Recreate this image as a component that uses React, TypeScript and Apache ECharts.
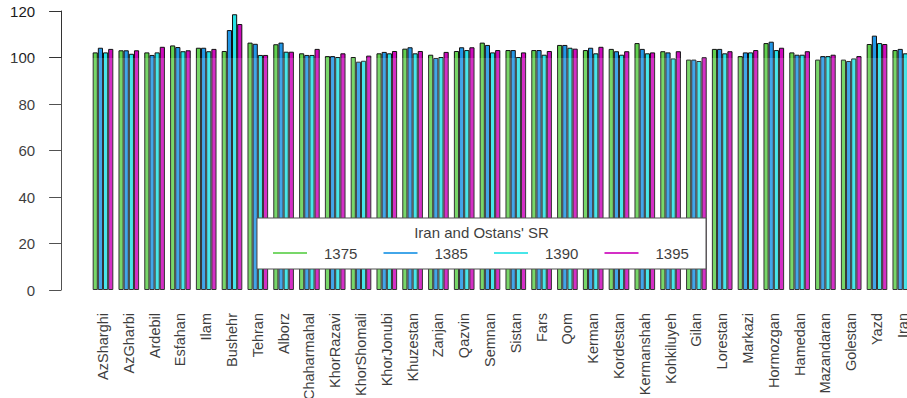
import React, { useEffect, useRef } from "react";
import * as echarts from "echarts";

// Provinces (ostans) plus the national total, in plotting order
const provinces = [
  "AzSharghi", "AzGharbi", "Ardebil", "Esfahan", "Ilam", "Bushehr", "Tehran", "Alborz",
  "Chaharmahal", "KhorRazavi", "KhorShomali", "KhorJonubi", "Khuzestan", "Zanjan", "Qazvin", "Semnan",
  "Sistan", "Fars", "Qom", "Kerman", "Kordestan", "Kermanshah", "Kohkiluyeh", "Gilan",
  "Lorestan", "Markazi", "Hormozgan", "Hamedan", "Mazandaran", "Golestan", "Yazd", "Iran",
];

// Census years
const years = ["1375", "1385", "1390", "1395"];

// Sex ratio (males per 100 females) for each census year
const sr1375 = [
  102.2, 103.1, 102.2, 105.2, 104.2, 102.8, 106.4, 105.7,
  101.8, 100.6, 100.2, 101.8, 103.8, 101.2, 102.8, 106.4,
  103.2, 103.2, 105.4, 103.2, 103.7, 106.2, 102.7, 99.1,
  103.7, 100.6, 106.2, 102.2, 99.1, 99.1, 105.8, 103.2,
];
const sr1385 = [
  104.2, 103.1, 101.1, 104.5, 104.2, 111.8, 105.9, 106.4,
  101.1, 100.6, 98.2, 102.4, 104.4, 99.8, 104.4, 105.4,
  103.2, 103.2, 105.4, 104.2, 102.7, 103.7, 102.2, 99.1,
  103.7, 102.2, 106.8, 101.2, 100.6, 98.5, 109.4, 103.7,
];
const sr1390 = [
  102.2, 101.6, 102.2, 102.7, 102.7, 118.6, 101.1, 102.5,
  101.1, 100.2, 98.6, 101.8, 101.8, 100.2, 103.2, 102.2,
  100.2, 101.2, 104.2, 101.8, 101.2, 101.8, 99.6, 98.5,
  101.8, 102.2, 103.2, 101.2, 100.6, 99.6, 106.2, 101.8,
];
const sr1395 = [
  103.7, 103.1, 104.6, 103.1, 103.7, 114.4, 101.1, 102.5,
  103.7, 101.8, 100.8, 102.8, 102.8, 102.4, 104.4, 103.2,
  102.2, 102.8, 103.8, 104.6, 102.7, 102.2, 102.7, 100.1,
  102.7, 103.2, 104.2, 102.7, 101.2, 100.6, 105.8, 103.0,
];
const seriesValues = [sr1375, sr1385, sr1390, sr1395];

// Value axis ticks
const yMin = 0;
const yMax = 120;
const yStep = 20;

const legendTitle = "Iran and Ostans' SR";
const palette = ["#61D04F", "#2297E6", "#28E2E5", "#CD0BBC"];
const FONT = "'Liberation Sans', Arial, Helvetica, sans-serif";
const INK = "#1a1a1a";

// Legend drawn as a boxed panel in the lower middle of the plot
function buildLegend() {
  const box = { x: 257, y: 218, w: 449, h: 51 };
  const step = 110.5;
  const Z = 100;
  const items: any[] = [];
  years.forEach((yr, i) => {
    const x0 = 273 + step * i;
    items.push({
      type: "line",
      z: Z + 1,
      shape: { x1: x0, y1: 253, x2: x0 + 34, y2: 253 },
      style: { stroke: palette[i], lineWidth: 2 },
    });
    items.push({
      type: "text",
      z: Z + 1,
      x: x0 + 51,
      y: 253,
      style: {
        text: yr,
        fill: INK,
        font: `15px ${FONT}`,
        textAlign: "left",
        textVerticalAlign: "middle",
      },
    });
  });
  return [
    {
      type: "rect",
      z: Z,
      shape: { x: box.x, y: box.y, width: box.w, height: box.h },
      style: { fill: "#ffffff", stroke: "#333333", lineWidth: 1 },
    },
    {
      type: "text",
      z: Z + 1,
      x: box.x + box.w / 2,
      y: 232,
      style: {
        text: legendTitle,
        fill: INK,
        font: `15px ${FONT}`,
        textAlign: "center",
        textVerticalAlign: "middle",
      },
    },
    ...items,
  ];
}

// Light wash over the lower part of the page
function buildWash() {
  return {
    type: "rect",
    z: 200,
    silent: true,
    shape: { x: 0, y: 58, width: 907, height: 340 },
    style: { fill: "rgba(255,255,255,0.15)" },
  };
}

export default function App() {
  const ref = useRef<HTMLDivElement>(null);

  useEffect(() => {
    if (!ref.current) return;
    const chart = echarts.init(ref.current, undefined, { renderer: "svg" });
    chart.setOption({
      animation: false,
      backgroundColor: "#ffffff",
      grid: {
        left: 90.1,
        top: 11,
        width: 825.6,
        bottom: 108,
        containLabel: false,
        outerBoundsMode: "none",
      },
      xAxis: {
        type: "category",
        data: provinces,
        axisLine: { show: false },
        axisTick: { show: false },
        splitLine: { show: false },
        axisLabel: {
          interval: 0,
          rotate: 90,
          margin: 23,
          color: INK,
          fontSize: 14.5,
          fontFamily: FONT,
        },
      },
      yAxis: {
        type: "value",
        min: yMin,
        max: yMax,
        interval: yStep,
        offset: 29,
        axisLine: { show: true, lineStyle: { color: "#333333", width: 1 } },
        axisTick: { show: true, length: 12, lineStyle: { color: "#333333", width: 1 } },
        splitLine: { show: false },
        axisLabel: {
          margin: 26,
          color: INK,
          fontSize: 15,
          fontFamily: FONT,
        },
      },
      series: years.map((yr, i) => ({
        name: yr,
        type: "bar",
        data: seriesValues[i],
        barGap: "0%",
        barCategoryGap: "20%",
        itemStyle: { color: palette[i], borderColor: "#111111", borderWidth: 1 },
      })),
      graphic: [...buildLegend(), buildWash()],
    });
    return () => chart.dispose();
  }, []);

  return (
    <div
      ref={ref}
      style={{ position: "fixed", left: 0, top: 0, width: 907, height: 398, background: "#fff" }}
    />
  );
}
